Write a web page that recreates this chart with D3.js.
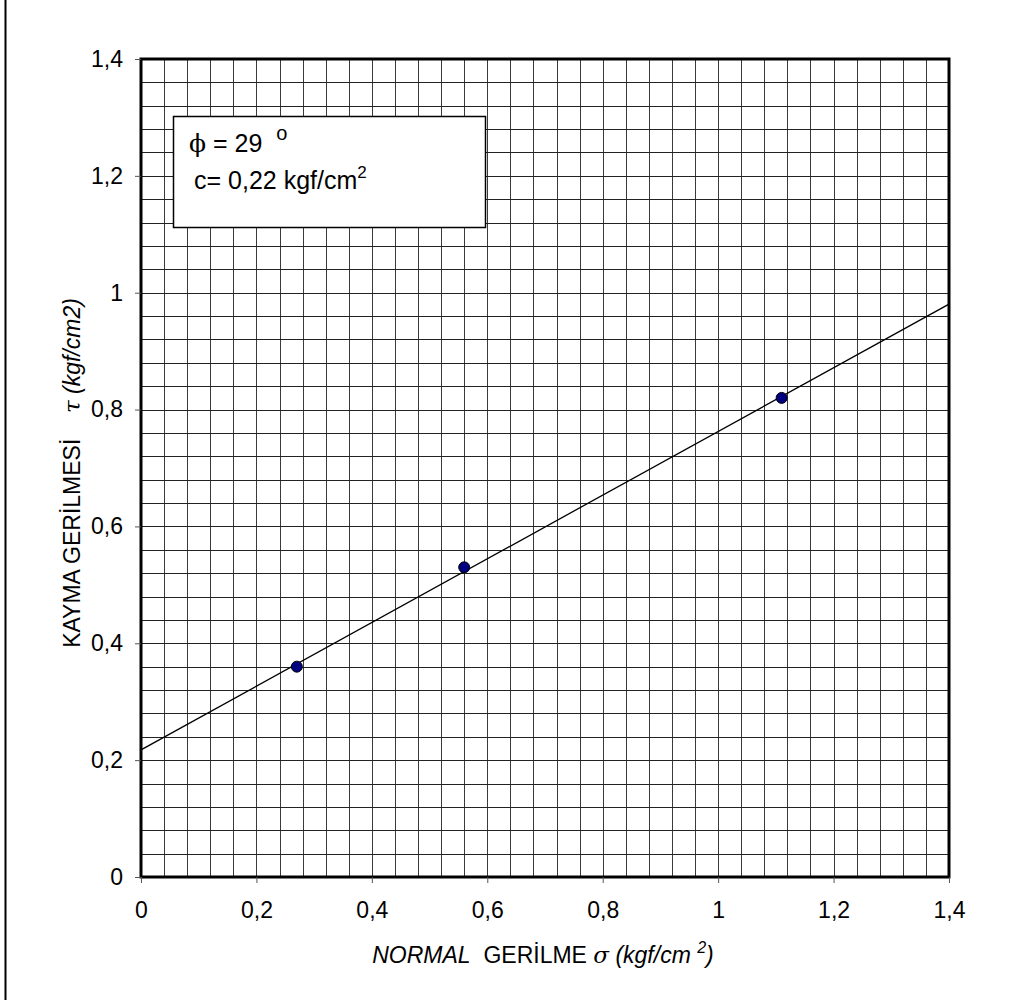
<!DOCTYPE html>
<html>
<head>
<meta charset="utf-8">
<script src="https://cdn.jsdelivr.net/npm/d3@7"></script>
<style>
  body { margin: 0; background: #fff; }
  svg { display: block; font-family: "Liberation Sans", Arial, sans-serif; }
</style>
</head>
<body>
<div id="chart"></div>
<script>
// data
var sigma = [0.27, 0.56, 1.11];   // normal stress kgf/cm2
var tau = [0.36, 0.53, 0.82];     // shear stress kgf/cm2
var xTicks = [0, 0.2, 0.4, 0.6, 0.8, 1, 1.2, 1.4];
var yTicks = [0, 0.2, 0.4, 0.6, 0.8, 1, 1.2, 1.4];
var phiText = "29";
var cText = "0,22";

var width = 1025, height = 1000;
var margin = {top: 59, right: 76, bottom: 123, left: 141};
var fs = 23;

var svg = d3.select("#chart").append("svg")
  .attr("width", width)
  .attr("height", height);

// left frame line
svg.append("line")
  .attr("x1", 5.5).attr("x2", 5.5)
  .attr("y1", 0).attr("y2", height)
  .attr("stroke", "#000").attr("stroke-width", 2);

var x = d3.scaleLinear().domain([0, 1.4]).range([margin.left, width - margin.right]);
var y = d3.scaleLinear().domain([0, 1.4]).range([height - margin.bottom, margin.top]);

var fmt = function(d) { return String(d).replace(".", ","); };

// minor grid, every 0.04
var grid = d3.range(0, 36).map(function(i) { return i * 0.04; });
var g = svg.append("g").attr("shape-rendering", "crispEdges");
g.selectAll(".vg").data(grid).enter().append("line")
  .attr("x1", function(d) { return Math.round(x(d)) + 0.5; })
  .attr("x2", function(d) { return Math.round(x(d)) + 0.5; })
  .attr("y1", y(1.4)).attr("y2", y(0))
  .attr("stroke", "#3a3a3a").attr("stroke-width", 1);
g.selectAll(".hg").data(grid).enter().append("line")
  .attr("y1", function(d) { return Math.round(y(d)) + 0.5; })
  .attr("y2", function(d) { return Math.round(y(d)) + 0.5; })
  .attr("x1", x(0)).attr("x2", x(1.4))
  .attr("stroke", "#222").attr("stroke-width", 1);

// plot border
svg.append("rect")
  .attr("x", x(0)).attr("y", y(1.4))
  .attr("width", x(1.4) - x(0)).attr("height", y(0) - y(1.4))
  .attr("fill", "none").attr("stroke", "#000").attr("stroke-width", 3);

// axes
var xAxis = svg.append("g")
  .attr("transform", "translate(0," + y(0) + ")")
  .call(d3.axisBottom(x).tickValues(xTicks).tickFormat(fmt).tickSize(6).tickPadding(19));
var yAxis = svg.append("g")
  .attr("transform", "translate(" + x(0) + ",0)")
  .call(d3.axisLeft(y).tickValues(yTicks).tickFormat(fmt).tickSize(6).tickPadding(12));
[xAxis, yAxis].forEach(function(a) {
  a.select(".domain").remove();
  a.selectAll("line").attr("stroke", "#555");
  a.selectAll("text").attr("font-size", fs).attr("fill", "#000")
    .attr("font-family", "Liberation Sans, Arial, sans-serif");
});

// least-squares trend line
var n = sigma.length;
var mx = d3.mean(sigma), my = d3.mean(tau);
var sxy = 0, sxx = 0;
for (var i = 0; i < n; i++) {
  sxy += (sigma[i] - mx) * (tau[i] - my);
  sxx += (sigma[i] - mx) * (sigma[i] - mx);
}
var slope = sxy / sxx, icpt = my - slope * mx;
svg.append("line")
  .attr("x1", x(0)).attr("y1", y(icpt))
  .attr("x2", x(1.4)).attr("y2", y(icpt + slope * 1.4))
  .attr("stroke", "#000").attr("stroke-width", 1.3);

// points
svg.selectAll(".pt").data(sigma).enter().append("circle")
  .attr("cx", function(d) { return x(d); })
  .attr("cy", function(d, i) { return y(tau[i]); })
  .attr("r", 5.5)
  .attr("fill", "#000080").attr("stroke", "#000").attr("stroke-width", 1);

// annotation box
svg.append("rect")
  .attr("x", 173.5).attr("y", 116.5).attr("width", 312).attr("height", 111)
  .attr("fill", "#fff").attr("stroke", "#000").attr("stroke-width", 1.5);
var t1 = svg.append("text").attr("x", 189).attr("y", 152).attr("font-size", 25)
  .attr("xml:space", "preserve");
t1.append("tspan").attr("font-family", "DejaVu Serif, serif").text("\u03d5");
t1.append("tspan").text(" = " + phiText + "  ");
t1.append("tspan").attr("dy", -12).attr("font-size", 20).text("o");
var t2 = svg.append("text").attr("x", 194).attr("y", 189).attr("font-size", 25);
t2.append("tspan").text("c= " + cText + " kgf/cm");
t2.append("tspan").attr("dy", -11).attr("font-size", 17).text("2");

// x axis title
var xt = svg.append("text")
  .attr("x", 543).attr("y", 963).attr("text-anchor", "middle").attr("font-size", fs)
  .attr("xml:space", "preserve");
xt.append("tspan").attr("font-style", "italic").text("NORMAL");
xt.append("tspan").text("  GER\u0130LME ");
xt.append("tspan").attr("font-style", "italic").attr("font-family", "DejaVu Serif, serif").text("\u03c3");
xt.append("tspan").attr("font-style", "italic").text(" (kgf/cm ");
xt.append("tspan").attr("font-style", "italic").attr("font-size", 16).attr("dy", -10).text("2");
xt.append("tspan").attr("font-style", "italic").attr("dy", 10).text(")");

// y axis title
var yt = svg.append("text")
  .attr("transform", "translate(80,473) rotate(-90)")
  .attr("text-anchor", "middle").attr("font-size", fs)
  .attr("xml:space", "preserve");
yt.append("tspan").text("KAYMA GER\u0130LMES\u0130    ");
yt.append("tspan").attr("font-style", "italic").attr("font-family", "DejaVu Serif, serif").text("\u03c4");
yt.append("tspan").attr("font-style", "italic").text(" (kgf/cm2)");
</script>
</body>
</html>
